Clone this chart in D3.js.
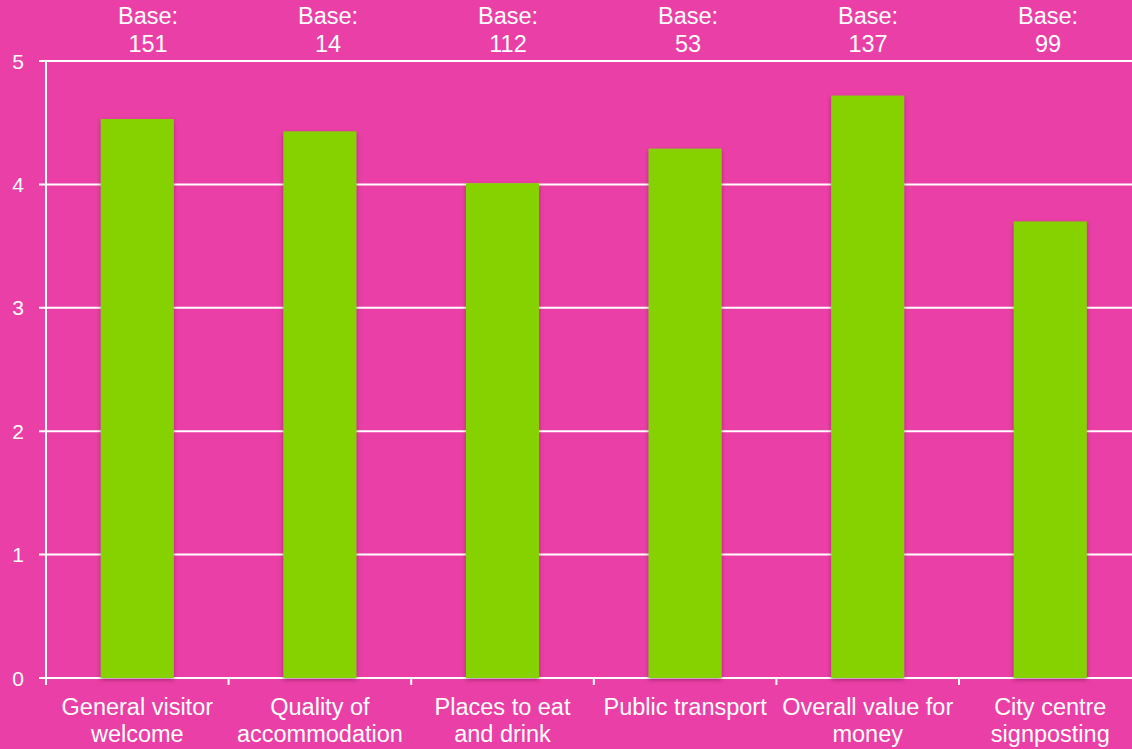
<!DOCTYPE html>
<html>
<head>
<meta charset="utf-8">
<script src="https://cdn.jsdelivr.net/npm/d3@7"></script>
<style>
  html, body { margin: 0; padding: 0; background: #ea3fa6; }
  svg { display: block; }
  text { font-family: "Liberation Sans", Arial, sans-serif; fill: #fff; }
</style>
</head>
<body>
<div id="chart"></div>
<script>
var categories = [
  ["General visitor", "welcome"],
  ["Quality of", "accommodation"],
  ["Places to eat", "and drink"],
  ["Public transport"],
  ["Overall value for", "money"],
  ["City centre", "signposting"]
];
var scores = [4.53, 4.43, 4.01, 4.29, 4.72, 3.70];
var bases = [151, 14, 112, 53, 137, 99];
var yTicks = [0, 1, 2, 3, 4, 5];

var width = 1132, height = 749;
var margin = {top: 61, left: 46, bottom: 71};
var step = 182.6;

var svg = d3.select("#chart")
    .append("svg")
    .attr("width", width)
    .attr("height", height);

svg.append("rect")
    .attr("width", width)
    .attr("height", height)
    .attr("fill", "#ea3fa6");

var defs = svg.append("defs");
var f = defs.append("filter").attr("id", "shadow")
    .attr("x", "-20%").attr("y", "-5%").attr("width", "140%").attr("height", "110%");
f.append("feDropShadow")
    .attr("dx", 0).attr("dy", 2).attr("stdDeviation", 2)
    .attr("flood-color", "#5a0a3a").attr("flood-opacity", 0.45);

var idx = d3.range(categories.length);

var x = d3.scaleBand()
    .domain(idx)
    .range([margin.left, margin.left + step * idx.length])
    .padding(0);

// base labels sit on a slightly narrower spacing than the bars
var xBase = d3.scaleBand()
    .domain(idx)
    .range([58, 58 + 180 * idx.length])
    .padding(0);

var y = d3.scaleLinear()
    .domain([0, 5])
    .range([height - margin.bottom, margin.top]);

// gridlines
svg.append("g")
    .selectAll("line")
    .data(yTicks)
    .enter()
    .append("line")
    .attr("x1", margin.left - 7)
    .attr("x2", width)
    .attr("y1", d => y(d))
    .attr("y2", d => y(d))
    .attr("stroke", "#fff")
    .attr("stroke-width", 2);

// y axis line
svg.append("line")
    .attr("x1", margin.left).attr("x2", margin.left)
    .attr("y1", y(5)).attr("y2", y(0) + 7)
    .attr("stroke", "#fff")
    .attr("stroke-width", 2);

// x ticks
svg.append("g")
    .selectAll("line")
    .data(idx.slice(1))
    .enter()
    .append("line")
    .attr("x1", d => x(d))
    .attr("x2", d => x(d))
    .attr("y1", y(0))
    .attr("y2", y(0) + 7)
    .attr("stroke", "#fff")
    .attr("stroke-width", 2);

// y tick labels
svg.append("g")
    .selectAll("text")
    .data(yTicks)
    .enter()
    .append("text")
    .attr("x", 24)
    .attr("y", d => y(d) + 7.5)
    .attr("text-anchor", "end")
    .style("font-size", "21px")
    .text(d => d);

// bars
svg.append("g")
    .selectAll("rect")
    .data(idx)
    .enter()
    .append("rect")
    .attr("x", d => x(d) + x.bandwidth() * 0.3)
    .attr("width", x.bandwidth() * 0.4)
    .attr("y", d => y(scores[d]))
    .attr("height", d => y(0) - y(scores[d]))
    .attr("fill", "#86d100")
    .attr("filter", "url(#shadow)");

// category labels
var cat = svg.append("g")
    .selectAll("text")
    .data(idx)
    .enter()
    .append("text")
    .attr("x", d => x(d) + x.bandwidth() / 2)
    .attr("y", 715)
    .attr("text-anchor", "middle")
    .style("font-size", "23.5px");
cat.selectAll("tspan")
    .data(d => categories[d].map(t => ({t: t, c: x(d) + x.bandwidth() / 2})))
    .enter()
    .append("tspan")
    .attr("x", d => d.c)
    .attr("dy", (d, i) => i ? 27 : 0)
    .text(d => d.t);

// base labels
var base = svg.append("g")
    .selectAll("g")
    .data(idx)
    .enter()
    .append("g");
base.append("text")
    .attr("x", d => xBase(d) + xBase.bandwidth() / 2)
    .attr("y", 24)
    .attr("text-anchor", "middle")
    .style("font-size", "23.5px")
    .text("Base:");
base.append("text")
    .attr("x", d => xBase(d) + xBase.bandwidth() / 2)
    .attr("y", 52)
    .attr("text-anchor", "middle")
    .style("font-size", "23.5px")
    .text(d => bases[d]);
</script>
</body>
</html>
